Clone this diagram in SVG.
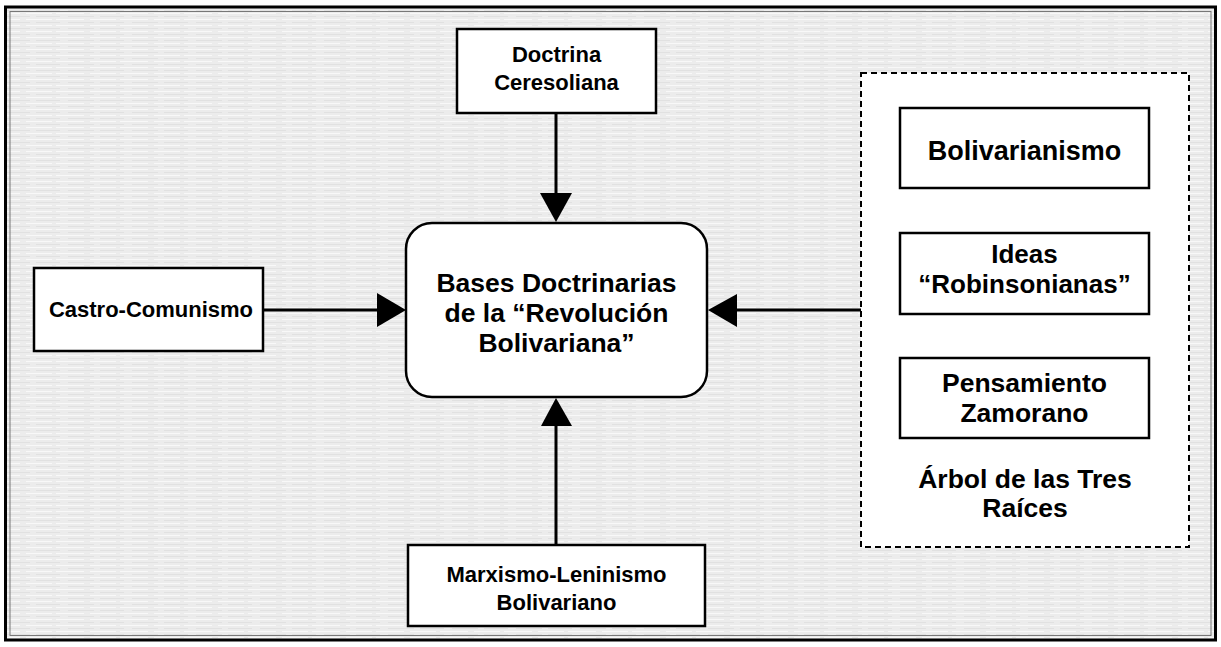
<svg xmlns="http://www.w3.org/2000/svg" width="1221" height="647" viewBox="0 0 1221 647">
<defs>
<pattern id="tex" width="64" height="6" patternUnits="userSpaceOnUse">
<rect width="64" height="6" fill="#ececec"/>
<path d="M0 1.5H20M26 1.5H52M56 1.5H64" stroke="#f8f8f8" stroke-width="1"/>
<path d="M4 4.5H30M36 4.5H60" stroke="#dcdcdc" stroke-width="0.7"/>
</pattern>
</defs>
<style>
.node{fill:#fff;stroke:#000;stroke-width:2.5}
.t{font-family:"Liberation Sans",Arial,sans-serif;font-weight:bold;fill:#000;text-anchor:middle}
.edge{stroke:#000;stroke-width:3;fill:none}
.head{fill:#000}
</style>
<rect width="1221" height="647" fill="#fff"/>
<rect x="5.5" y="7" width="1210" height="633" fill="url(#tex)" stroke="#000" stroke-width="3"/>
<rect x="10" y="11.5" width="1201" height="624" fill="none" stroke="#777" stroke-width="1"/>

<g id="connectors">
<line class="edge" x1="556" y1="113" x2="556" y2="195"/>
<polygon class="head" points="540,193 572,193 556,222"/>
<line class="edge" x1="263" y1="310" x2="380" y2="310"/>
<polygon class="head" points="377,293 377,327 406,310"/>
<line class="edge" x1="861" y1="310" x2="733" y2="310"/>
<polygon class="head" points="737,294 737,327 708,310"/>
<line class="edge" x1="556" y1="545" x2="556" y2="424"/>
<polygon class="head" points="541,426 572,426 556,398"/>
</g>

<g id="center">
<rect class="node" x="406" y="223" width="301" height="174" rx="26" ry="26"/>
<text class="t" font-size="26.5" x="556.5" y="292">Bases Doctrinarias</text>
<text class="t" font-size="26.5" x="556.5" y="322">de la “Revolución</text>
<text class="t" font-size="26.5" x="556.5" y="352">Bolivariana”</text>
</g>

<g id="doctrina">
<rect class="node" x="457" y="29" width="199" height="84"/>
<text class="t" font-size="22" x="556.5" y="62">Doctrina</text>
<text class="t" font-size="22" x="556.5" y="90">Ceresoliana</text>
</g>

<g id="castro">
<rect class="node" x="34" y="268" width="229" height="83"/>
<text class="t" font-size="22" x="151" y="317">Castro-Comunismo</text>
</g>

<g id="marxismo">
<rect class="node" x="408" y="545" width="297" height="81"/>
<text class="t" font-size="22" x="556.5" y="582">Marxismo-Leninismo</text>
<text class="t" font-size="22" x="556.5" y="610">Bolivariano</text>
</g>

<g id="arbol">
<rect x="861" y="73" width="328" height="474" fill="#fff" stroke="#000" stroke-width="2" stroke-dasharray="6,4"/>
<text class="t" font-size="26.5" x="1025" y="488">Árbol de las Tres</text>
<text class="t" font-size="26.5" x="1025" y="517">Raíces</text>
</g>

<g id="bolivarianismo">
<rect class="node" x="900" y="108" width="249" height="80"/>
<text class="t" font-size="27" x="1024.5" y="160">Bolivarianismo</text>
</g>

<g id="ideas">
<rect class="node" x="900" y="233" width="249" height="81"/>
<text class="t" font-size="26" x="1024.5" y="263">Ideas</text>
<text class="t" font-size="26" x="1024.5" y="293">“Robinsonianas”</text>
</g>

<g id="pensamiento">
<rect class="node" x="900" y="358" width="249" height="80"/>
<text class="t" font-size="26.5" x="1024.5" y="392">Pensamiento</text>
<text class="t" font-size="26.5" x="1024.5" y="422">Zamorano</text>
</g>
</svg>
